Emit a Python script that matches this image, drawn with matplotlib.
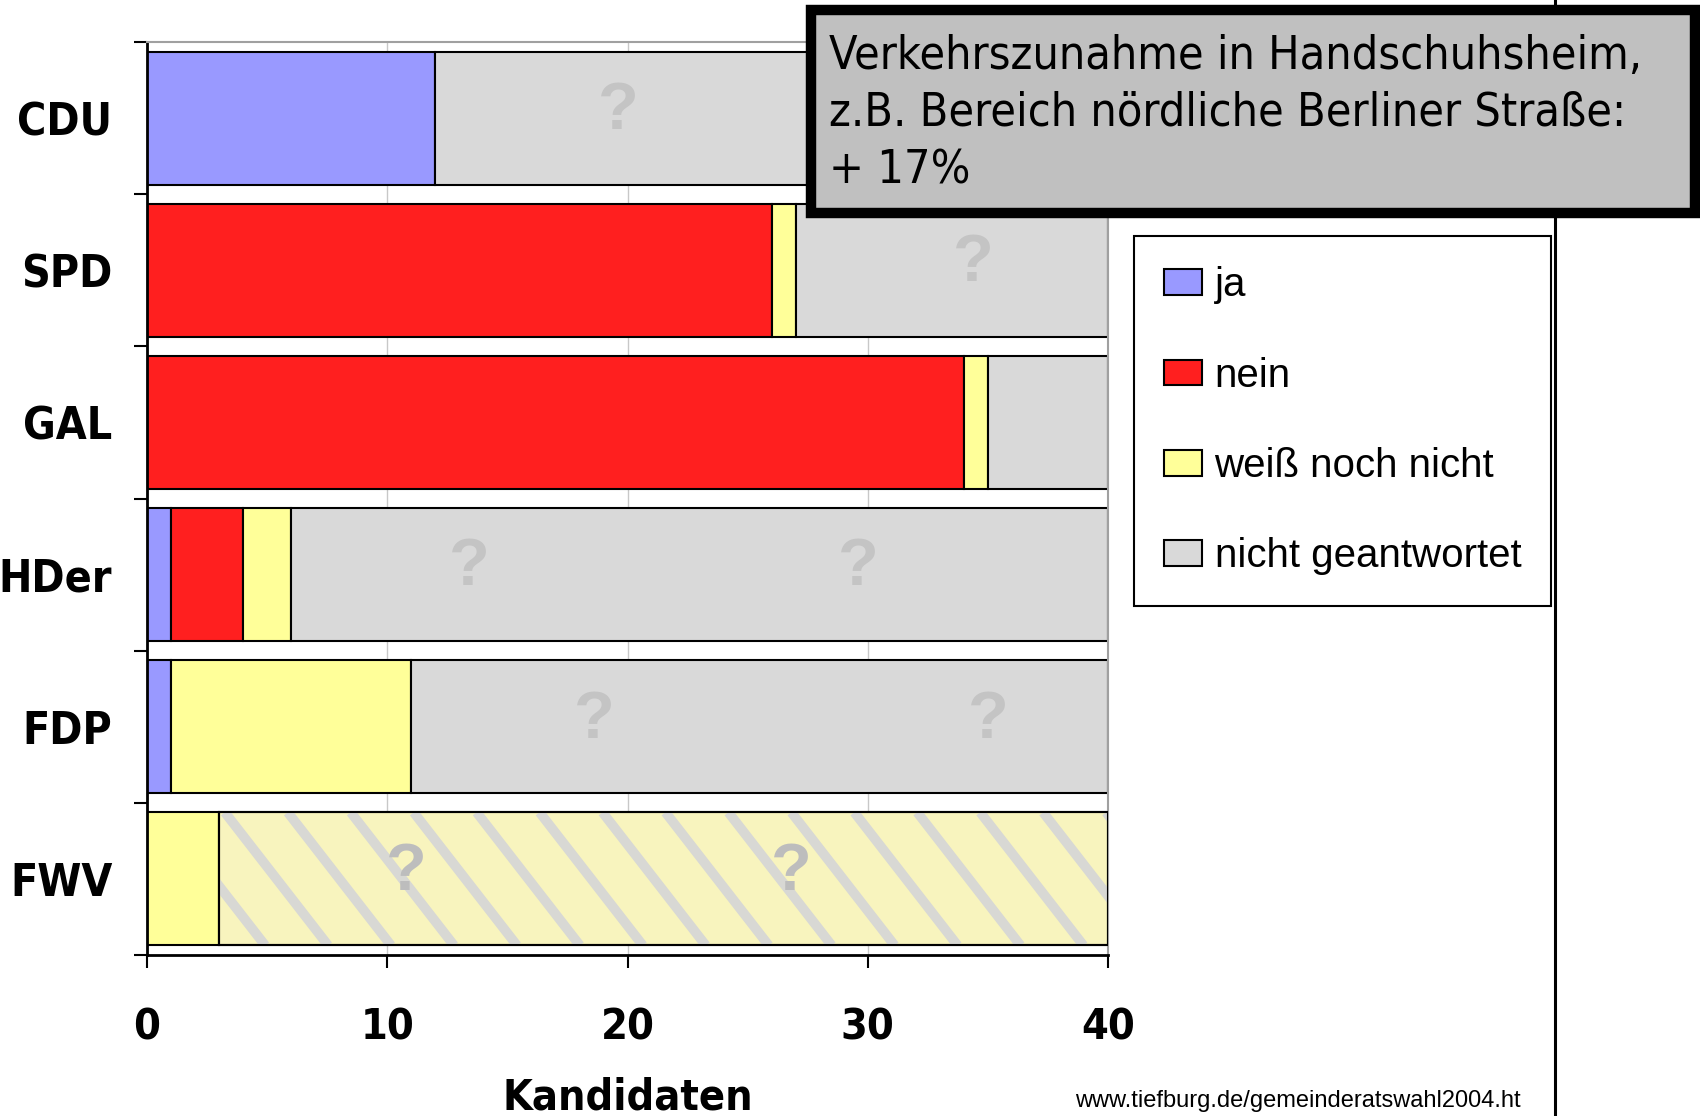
import os
import numpy as np
import matplotlib.pyplot as plt
from matplotlib import font_manager as fm
from matplotlib.patches import Rectangle, Patch
from matplotlib.lines import Line2D

# Kandidaten-Antworten je Partei (von oben nach unten)
parties = ["CDU", "SPD", "GAL", "HDer", "FDP", "FWV"]
ja = [12, 0, 0, 1, 1, 0]
nein = [0, 26, 34, 3, 0, 0]
weiss = [0, 1, 1, 2, 10, 3]
keine = [28, 13, 5, 34, 29, 37]
labels = ["ja", "nein", "weiß noch nicht", "nicht geantwortet"]
colors = ["#9999ff", "#ff1f1f", "#ffff99", "#d9d9d9"]
xticks = [0, 10, 20, 30, 40]

# "?" im Fragezeichen-Muster der grauen Balken
qmarks = [("CDU", 19.6), ("SPD", 34.4), ("HDer", 13.4), ("HDer", 29.6),
          ("FDP", 18.6), ("FDP", 35.0), ("FWV", 10.8), ("FWV", 26.8)]
striped = ["FWV"]

note = ["Verkehrszunahme in Handschuhsheim,",
        "z.B. Bereich nördliche Berliner Straße:",
        "+ 17%"]
source = "www.tiefburg.de/gemeinderatswahl2004.ht"


def pick(names, family, weight):
    files = {os.path.basename(f).lower(): f for f in fm.findSystemFonts()}
    for n in names:
        if n.lower() in files:
            return fm.FontProperties(fname=files[n.lower()])
    return fm.FontProperties(family=family, weight=weight)


narrow_b = pick(["LiberationSansNarrow-Bold.ttf", "DejaVuSansCondensed-Bold.ttf"],
                ["Liberation Sans", "DejaVu Sans"], "bold")
narrow_r = pick(["LiberationSansNarrow-Regular.ttf", "DejaVuSansCondensed.ttf"],
                ["Liberation Sans", "DejaVu Sans"], "normal")
plain = ["Liberation Sans", "DejaVu Sans"]


def fp(base, size):
    f = base.copy()
    f.set_size(size)
    return f


W, H = 1700, 1116
fig = plt.figure(figsize=(W / 100, H / 100), dpi=100)
ax = fig.add_axes([147 / W, 1 - 955 / H, (1108 - 147) / W, (955 - 42) / H])

y = np.arange(len(parties))
h = 0.875
left = np.zeros(len(parties))
segs = {}
for name, vals, c in zip(labels, [ja, nein, weiss, keine], colors):
    vals = np.array(vals, dtype=float)
    idx = np.nonzero(vals)[0]
    b = ax.barh(y[idx], vals[idx], left=left[idx], height=h, color=c,
                edgecolor="black", linewidth=1.5, zorder=2)
    for i, p in zip(idx, b.patches):
        segs[(name, i)] = p
    left += vals

# gestreifter Balken (FWV)
for i, p in enumerate(parties):
    if p not in striped:
        continue
    patch = segs[("nicht geantwortet", i)]
    patch.set_facecolor("#f8f4be")
    x0 = patch.get_x()
    x1 = x0 + patch.get_width()
    for xs in np.arange(x0 - 5, x1, 2.62):
        ln, = ax.plot([xs, xs + 4.3], [i - h / 2, i + h / 2], color="#d8d8d4",
                      lw=7, solid_capstyle="butt", zorder=2.5)
        ln.set_clip_path(patch)
    ax.add_patch(Rectangle((x0, i - h / 2), x1 - x0, h, fill=False,
                           edgecolor="black", lw=1.5, zorder=3))

for p, xq in qmarks:
    i = parties.index(p)
    col = "#bdbdbd" if p in striped else "#c4c4c4"
    ax.text(xq, i - 0.04, "?", ha="center", va="center", fontsize=48,
            fontweight="bold", color=col, family=plain, zorder=4)

ax.set_xlim(0, 40)
ax.set_ylim(5.5, -0.5)
ax.set_xticks(xticks)
ax.set_xticklabels([str(t) for t in xticks], fontproperties=fp(narrow_b, 31))
ax.set_yticks(y)
ax.set_yticklabels(parties, fontproperties=fp(narrow_b, 32))
ax.set_yticks(np.arange(-0.5, 6, 1), minor=True)
ax.tick_params(axis="y", which="major", length=0, pad=25)
ax.tick_params(axis="y", which="minor", length=9.4, width=1.5, direction="out")
ax.tick_params(axis="x", length=9.4, width=1.5, direction="out", pad=28)
ax.xaxis.grid(True, color="#c8c8c8", lw=1)
ax.set_axisbelow(True)
for s in ["left", "bottom"]:
    ax.spines[s].set_linewidth(2)
    ax.spines[s].set_color("black")
for s in ["top", "right"]:
    ax.spines[s].set_linewidth(1.5)
    ax.spines[s].set_color("#a0a0a0")
ax.set_xlabel("Kandidaten", fontproperties=fp(narrow_b, 31), labelpad=20)

handles = [Patch(facecolor=c, edgecolor="black", lw=1.5) for c in colors]
leg = fig.legend(handles, labels, loc="upper left",
                 bbox_to_anchor=(1134 / W, 1 - 236 / H), borderaxespad=0,
                 prop={"family": plain, "size": 29}, frameon=True,
                 fancybox=False, edgecolor="black", framealpha=1,
                 borderpad=0.75, labelspacing=1.3, handlelength=0.95,
                 handleheight=0.6, handletextpad=0.3)
leg.get_frame().set_linewidth(1.5)

fig.add_artist(Line2D([1555 / W, 1555 / W], [0, 1], color="black", lw=2.2,
                      transform=fig.transFigure))

fig.add_artist(Rectangle((811 / W, 1 - 213 / H), (1695 - 811) / W, 203 / H,
                         transform=fig.transFigure, facecolor="#c0c0c0",
                         edgecolor="black", lw=7.5, zorder=10))
for line, base in zip(note, [69, 126, 183]):
    fig.text(829 / W, 1 - base / H, line, va="baseline",
             fontproperties=fp(narrow_r, 33.5), zorder=11)

fig.text(1075 / W, 1 - 1107 / H, source, va="baseline", fontsize=17,
         family=plain)

fig.savefig("out.png", dpi=100)
